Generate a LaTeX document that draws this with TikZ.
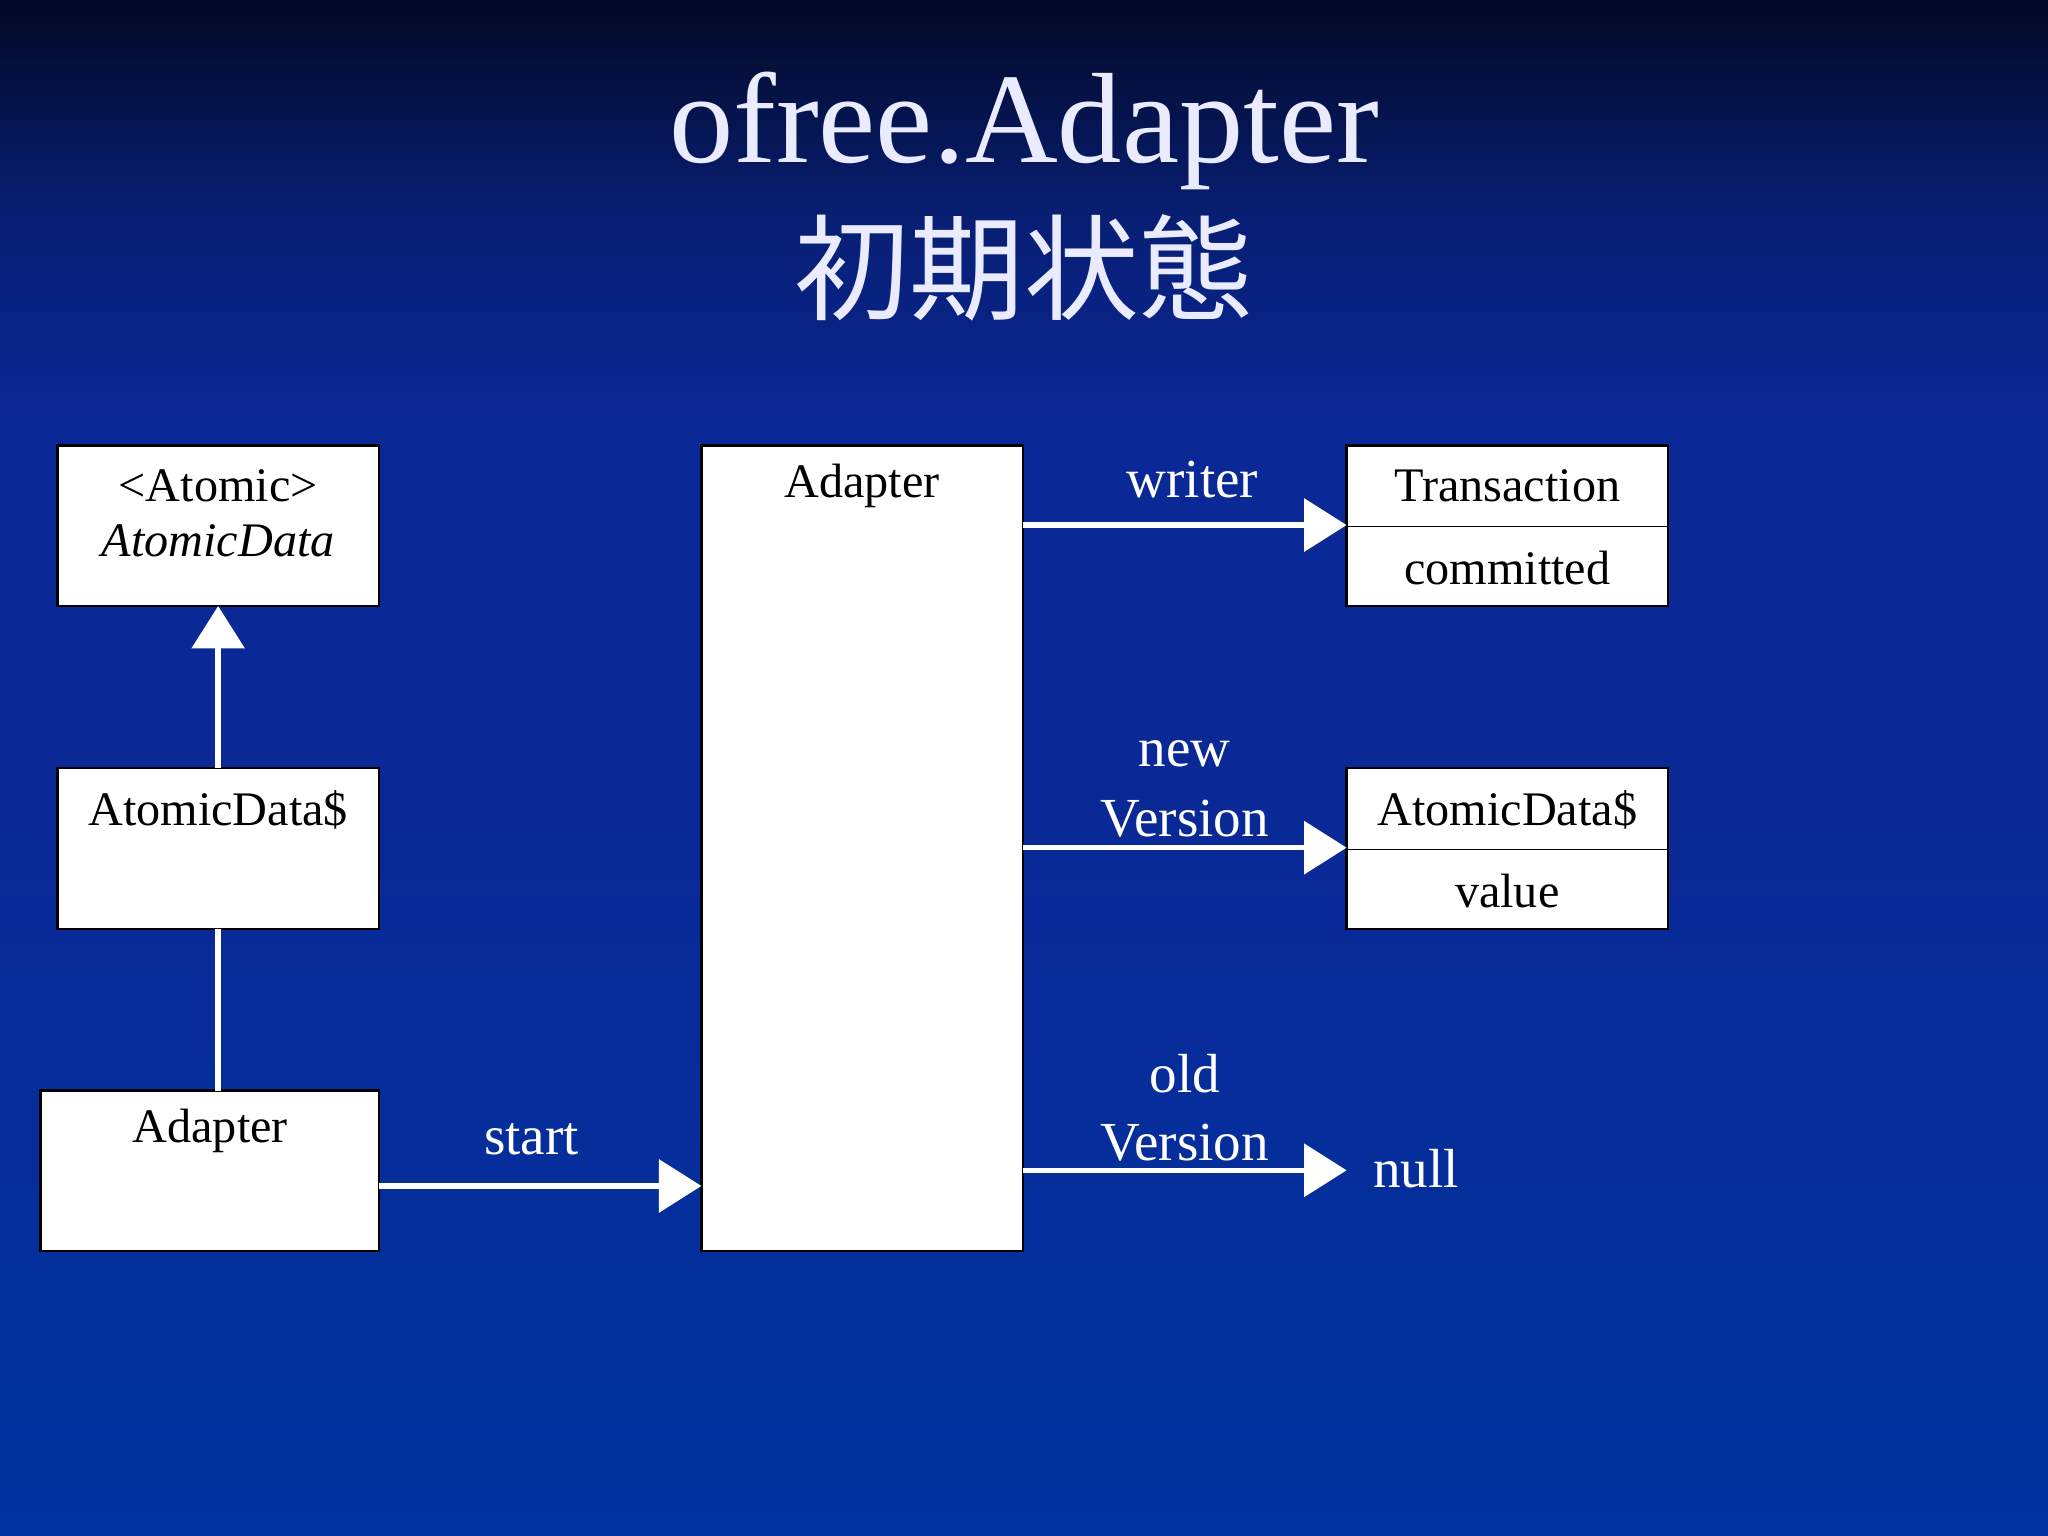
\documentclass[tikz,border=0pt]{standalone}
\usepackage{fontspec}
\setmainfont{Liberation Serif}
\newfontfamily\cjk{Noto Sans CJK JP}
\usetikzlibrary{arrows.meta}
\definecolor{bgtop}{RGB}{2,8,35}
\definecolor{bgmid}{RGB}{10,40,150}
\definecolor{bgbot}{RGB}{0,52,160}
\tikzset{
  box/.style={draw=black,fill=white,line width=1pt},
  lbl/.style={text=black,font=\fontsize{21}{23}\selectfont,anchor=center},
  wl/.style={text=white,font=\fontsize{24}{26}\selectfont,anchor=center},
  conn/.style={draw=white,line width=2.4pt},
  arr/.style={conn,-{Triangle[length=0.65cm,width=0.8cm]}}
}
\begin{document}
\begin{tikzpicture}[x=0.02cm,y=-0.02cm]
\shade[top color=bgtop,bottom color=bgmid,middle color=bgmid!70!bgtop] (0,0) rectangle (1568,330);
\fill[bgmid] (0,329) rectangle (1568,600);
\shade[top color=bgmid,bottom color=bgbot] (0,599) rectangle (1568,1176);
\useasboundingbox (0,0) rectangle (1568,1176);
% title
\node[text=white!92!blue,font=\fontsize{56}{58}\selectfont] (t1) at (784,100) {ofree.Adapter};
\node[text=white!92!blue,font=\cjk\fontsize{50}{52}\selectfont] (t2) at (784,205) {初期状態};
% boxes
\draw[box] (44,341) rectangle (290,464); \coordinate (ad) at (167,464);
\node[lbl] at (167,372) {<Atomic>};
\node[lbl,font=\fontsize{21}{23}\selectfont\itshape] at (167,414) {AtomicData};
\draw[box] (44,588) rectangle (290,711); \coordinate (ads) at (167,588); \coordinate (adsb) at (167,711);
\node[lbl] at (167,620) {AtomicData\$};
\draw[box] (31,835) rectangle (290,958); \coordinate (al) at (167,835);
\node[lbl] at (161,866) {Adapter};
\draw[box] (537,341) rectangle (783,958);
\node[lbl] at (660,372) {Adapter};
\draw[box] (1031,341) rectangle (1277,464); \draw (1031,403) -- (1277,403);
\node[lbl] at (1154,372) {Transaction};
\node[lbl] at (1154,435) {committed};
\draw[box] (1031,588) rectangle (1277,711); \draw (1031,650) -- (1277,650);
\node[lbl] at (1154,620) {AtomicData\$};
\node[lbl] at (1154,682) {value};
% connectors
\coordinate (s1) at (290,908); \coordinate (s2) at (537,908);
\coordinate (w1) at (783,402); \coordinate (w2) at (1031,402);
\coordinate (n1) at (783,649); \coordinate (n2) at (1031,649);
\coordinate (o1) at (783,896); \coordinate (o2) at (1031,896);
\draw[arr] (ads) -- (ad);
\draw[conn] (al) -- (adsb);
\draw[arr] (s1) -- (s2);
\draw[arr] (w1) -- (w2);
\draw[arr] (n1) -- (n2);
\draw[arr] (o1) -- (o2);
\node[wl] at (407,872) {start};
\node[wl] at (913,367) {writer};
\node[wl] at (907,577) {new};
\node[wl] at (907,627) {Version};
\node[wl] at (907,822) {old};
\node[wl] at (907,875) {Version};
\node[wl,anchor=west] at (1045,895) {null};
\end{tikzpicture}
\end{document}
